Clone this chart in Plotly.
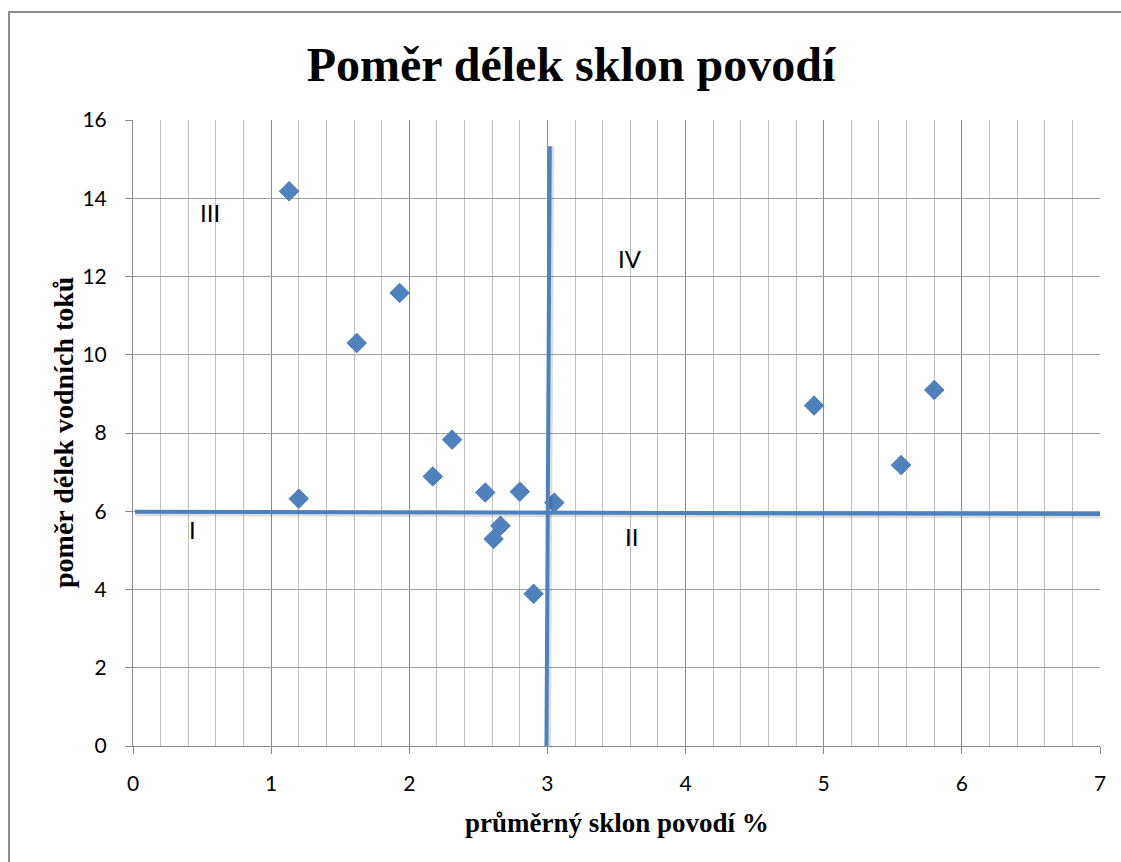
import plotly.graph_objects as go

# ---- data ----
slope = [1.13, 1.93, 1.62, 2.31, 2.17, 1.20, 2.55, 2.80, 3.05, 2.66, 2.61, 2.90, 4.93, 5.80, 5.56]
ratio = [14.18, 11.58, 10.30, 7.83, 6.89, 6.32, 6.48, 6.50, 6.22, 5.63, 5.29, 3.89, 8.70, 9.10, 7.18]

hline_x = [0.015, 7.0]
hline_y = [5.99, 5.93]
vline_x = [3.017, 2.993]
vline_y = [15.33, 0.0]

quad_labels = ["III", "IV", "I", "II"]
quad_x = [0.558, 3.597, 0.429, 3.61]
quad_y = [13.64, 12.47, 5.54, 5.35]

x_ticks = [0, 1, 2, 3, 4, 5, 6, 7]
y_ticks = [0, 2, 4, 6, 8, 10, 12, 14, 16]

title_text = "Poměr délek sklon povodí"
x_title = "průměrný sklon povodí %"
y_title = "poměr délek vodních toků"

BLUE = "#4F81BD"
W, H = 1121, 862
ML, MR, MT, MB = 133, 21, 120, 116
px_x = (W - ML - MR) / 7.0
px_y = (H - MT - MB) / 16.0

fig = go.Figure()

fig.add_trace(go.Scatter(
    x=slope, y=ratio, mode="markers",
    marker=dict(symbol="diamond", size=15, color=BLUE, line=dict(color="#4A7EBB", width=1)),
    cliponaxis=False, showlegend=False, hoverinfo="x+y"))

# shadows of the drawn lines
sh = 2.0
fig.add_trace(go.Scatter(x=hline_x, y=[v - sh / px_y for v in hline_y], mode="lines",
                         line=dict(color="rgba(0,0,0,0.13)", width=5), showlegend=False, hoverinfo="skip"))
fig.add_trace(go.Scatter(x=[v + sh / px_x for v in vline_x], y=vline_y, mode="lines",
                         line=dict(color="rgba(0,0,0,0.13)", width=5), showlegend=False, hoverinfo="skip"))
fig.add_trace(go.Scatter(x=hline_x, y=hline_y, mode="lines",
                         line=dict(color=BLUE, width=4), showlegend=False, hoverinfo="skip"))
fig.add_trace(go.Scatter(x=vline_x, y=vline_y, mode="lines",
                         line=dict(color=BLUE, width=4), showlegend=False, hoverinfo="skip"))

for t, xx, yy in zip(quad_labels, quad_x, quad_y):
    fig.add_annotation(x=xx, y=yy, xref="x", yref="y", text=t, showarrow=False,
                       font=dict(family="Lato", size=24, color="#000000"),
                       xanchor="center", yanchor="middle")

fig.add_annotation(x=0.5, y=0, xref="paper", yref="paper", yshift=-77, text=x_title,
                   showarrow=False, xanchor="center", yanchor="middle",
                   font=dict(family="Liberation Serif", size=27, color="#000000", weight="bold"))
fig.add_annotation(x=0, y=0.5, xref="paper", yref="paper", xshift=-70, text=y_title,
                   showarrow=False, xanchor="center", yanchor="middle", textangle=-90,
                   font=dict(family="Liberation Serif", size=28, color="#000000", weight="bold"))

# outer chart border
fig.add_shape(type="rect", xref="paper", yref="paper",
              x0=(9 - ML) / (W - ML - MR), x1=(1130 - ML) / (W - ML - MR),
              y0=-(880 - (H - MB)) / (H - MT - MB), y1=((H - MB) - 12) / (H - MT - MB),
              line=dict(color="#8C8C8C", width=2), fillcolor="rgba(0,0,0,0)", layer="below")

fig.update_layout(
    width=W, height=H,
    margin=dict(l=ML, r=MR, t=MT, b=MB),
    paper_bgcolor="white", plot_bgcolor="white",
    title=dict(text=title_text, x=571 / W, xanchor="center", y=1 - 64 / H, yanchor="middle",
               xref="container", yref="container",
               font=dict(family="Liberation Serif", size=48, color="#000000", weight="bold")),
    xaxis=dict(range=[0, 7], tickvals=x_ticks, ticktext=[str(v) for v in x_ticks],
               showgrid=True, gridcolor="#8A8A8A", gridwidth=1,
               minor=dict(dtick=0.2, showgrid=True, gridcolor="#C0C0C0", gridwidth=1, ticks=""),
               showline=True, linecolor="#8A8A8A", linewidth=1,
               ticks="outside", ticklen=7, tickcolor="#8A8A8A", ticklabelstandoff=12,
               tickfont=dict(family="Lato", size=21, color="#000000"), zeroline=False, fixedrange=True),
    yaxis=dict(range=[0, 16], tickvals=y_ticks, ticktext=[str(v) for v in y_ticks],
               showgrid=True, gridcolor="#A0A0A0", gridwidth=1,
               showline=True, linecolor="#8A8A8A", linewidth=1,
               ticks="outside", ticklen=7, tickcolor="#8A8A8A", ticklabelstandoff=14,
               tickfont=dict(family="Lato", size=21, color="#000000"), zeroline=False, fixedrange=True),
    showlegend=False,
)

fig.write_html("out.html", config={"displayModeBar": False},
               post_script="document.body.style.margin='0';document.body.style.overflow='hidden';")
